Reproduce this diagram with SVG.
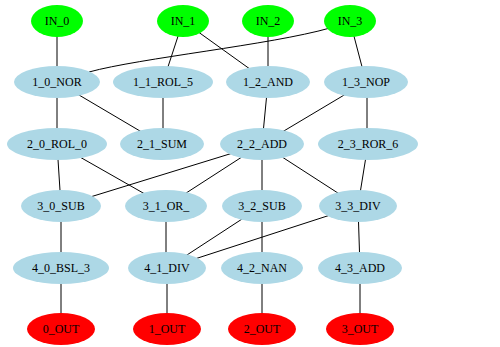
<svg xmlns="http://www.w3.org/2000/svg" width="500" height="347" viewBox="0 0 500 347">
<style>
.e{stroke:#000;stroke-width:1;fill:none}
.in{fill:#00ff00}
.op{fill:#add8e6}
.out{fill:#ff0000}
text{font-family:"Liberation Serif","Times New Roman",serif;font-size:12px;fill:#000;text-anchor:middle;dominant-baseline:central}
</style>
<rect width="500" height="347" fill="#fff"/>
<g id="connectors">
<line class="e" x1="57" y1="21" x2="57" y2="82"/>
<line class="e" x1="183" y1="21" x2="163" y2="82"/>
<line class="e" x1="183" y1="21" x2="268" y2="82"/>
<line class="e" x1="268" y1="21" x2="268" y2="82"/>
<path class="e" d="M89,72 C140,58 270,45 330,28"/>
<line class="e" x1="350" y1="21" x2="366" y2="82"/>
<line class="e" x1="57" y1="82" x2="57" y2="144"/>
<line class="e" x1="57" y1="82" x2="162" y2="144"/>
<line class="e" x1="163" y1="82" x2="163" y2="144"/>
<line class="e" x1="268" y1="82" x2="262" y2="144"/>
<line class="e" x1="366" y1="82" x2="262" y2="144"/>
<line class="e" x1="367" y1="82" x2="367" y2="144"/>
<line class="e" x1="57" y1="144" x2="61" y2="206"/>
<line class="e" x1="57" y1="144" x2="166" y2="206"/>
<line class="e" x1="262" y1="144" x2="61" y2="206"/>
<line class="e" x1="262" y1="144" x2="166" y2="206"/>
<line class="e" x1="262" y1="144" x2="262" y2="206"/>
<line class="e" x1="262" y1="144" x2="358" y2="206"/>
<line class="e" x1="368" y1="144" x2="358" y2="206"/>
<line class="e" x1="61" y1="206" x2="61" y2="268"/>
<line class="e" x1="166" y1="206" x2="166" y2="268"/>
<line class="e" x1="262" y1="206" x2="167" y2="268"/>
<line class="e" x1="358" y1="206" x2="167" y2="268"/>
<line class="e" x1="262" y1="206" x2="262" y2="268"/>
<line class="e" x1="358" y1="206" x2="360" y2="268"/>
<line class="e" x1="61" y1="268" x2="61" y2="329"/>
<line class="e" x1="167" y1="268" x2="167" y2="329"/>
<line class="e" x1="262" y1="268" x2="262" y2="329"/>
<line class="e" x1="360" y1="268" x2="360" y2="329"/>
</g>
<g id="IN_0"><ellipse class="in" cx="57" cy="21" rx="26" ry="16"/><text x="57" y="21">IN_0</text></g>
<g id="IN_1"><ellipse class="in" cx="183" cy="21" rx="26" ry="16"/><text x="183" y="21">IN_1</text></g>
<g id="IN_2"><ellipse class="in" cx="268" cy="21" rx="26" ry="16"/><text x="268" y="21">IN_2</text></g>
<g id="IN_3"><ellipse class="in" cx="350" cy="21" rx="26" ry="16"/><text x="350" y="21">IN_3</text></g>
<g id="n1_0_NOR"><ellipse class="op" cx="57" cy="82" rx="43" ry="16"/><text x="57" y="82">1_0_NOR</text></g>
<g id="n1_1_ROL_5"><ellipse class="op" cx="163" cy="82" rx="50" ry="16"/><text x="163" y="82">1_1_ROL_5</text></g>
<g id="n1_2_AND"><ellipse class="op" cx="268" cy="82" rx="42" ry="16"/><text x="268" y="82">1_2_AND</text></g>
<g id="n1_3_NOP"><ellipse class="op" cx="366" cy="82" rx="42" ry="16"/><text x="366" y="82">1_3_NOP</text></g>
<g id="n2_0_ROL_0"><ellipse class="op" cx="57" cy="144" rx="50" ry="16"/><text x="57" y="144">2_0_ROL_0</text></g>
<g id="n2_1_SUM"><ellipse class="op" cx="162" cy="144" rx="42" ry="16"/><text x="162" y="144">2_1_SUM</text></g>
<g id="n2_2_ADD"><ellipse class="op" cx="262" cy="144" rx="42" ry="16"/><text x="262" y="144">2_2_ADD</text></g>
<g id="n2_3_ROR_6"><ellipse class="op" cx="368" cy="144" rx="50" ry="16"/><text x="368" y="144">2_3_ROR_6</text></g>
<g id="n3_0_SUB"><ellipse class="op" cx="61" cy="206" rx="40" ry="16"/><text x="61" y="206">3_0_SUB</text></g>
<g id="n3_1_OR_"><ellipse class="op" cx="166" cy="206" rx="41" ry="16"/><text x="166" y="206">3_1_OR_</text></g>
<g id="n3_2_SUB"><ellipse class="op" cx="262" cy="206" rx="40" ry="16"/><text x="262" y="206">3_2_SUB</text></g>
<g id="n3_3_DIV"><ellipse class="op" cx="358" cy="206" rx="39" ry="16"/><text x="358" y="206">3_3_DIV</text></g>
<g id="n4_0_BSL_3"><ellipse class="op" cx="61" cy="268" rx="48" ry="16"/><text x="61" y="268">4_0_BSL_3</text></g>
<g id="n4_1_DIV"><ellipse class="op" cx="167" cy="268" rx="39" ry="16"/><text x="167" y="268">4_1_DIV</text></g>
<g id="n4_2_NAN"><ellipse class="op" cx="262" cy="268" rx="41" ry="16"/><text x="262" y="268">4_2_NAN</text></g>
<g id="n4_3_ADD"><ellipse class="op" cx="360" cy="268" rx="42" ry="16"/><text x="360" y="268">4_3_ADD</text></g>
<g id="n0_OUT"><ellipse class="out" cx="61" cy="329" rx="34" ry="16"/><text x="61" y="329">0_OUT</text></g>
<g id="n1_OUT"><ellipse class="out" cx="167" cy="329" rx="34" ry="16"/><text x="167" y="329">1_OUT</text></g>
<g id="n2_OUT"><ellipse class="out" cx="262" cy="329" rx="34" ry="16"/><text x="262" y="329">2_OUT</text></g>
<g id="n3_OUT"><ellipse class="out" cx="360" cy="329" rx="34" ry="16"/><text x="360" y="329">3_OUT</text></g>
</svg>
